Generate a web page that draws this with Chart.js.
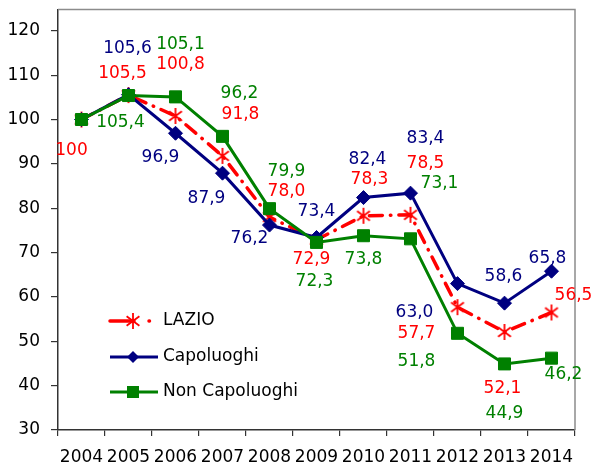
<!DOCTYPE html>
<html>
<head>
<meta charset="utf-8">
<script src="https://cdn.jsdelivr.net/npm/chart.js@4.4.1/dist/chart.umd.min.js"></script>
<style>
  html, body { margin: 0; padding: 0; background: #fff; }
  #wrap { width: 594px; height: 471px; }
</style>
</head>
<body>
<div id="wrap"><canvas id="chart" width="594" height="471"></canvas></div>
<script>
// anni e indici (base 2004 = 100)
const years = ['2004', '2005', '2006', '2007', '2008', '2009', '2010', '2011', '2012', '2013', '2014'];
const lazio = [100, 105.5, 100.8, 91.8, 78.0, 72.9, 78.3, 78.5, 57.7, 52.1, 56.5];
const capoluoghi = [100, 105.6, 96.9, 87.9, 76.2, 73.4, 82.4, 83.4, 63.0, 58.6, 65.8];
const nonCapoluoghi = [100, 105.4, 105.1, 96.2, 79.9, 72.3, 73.8, 73.1, 51.8, 44.9, 46.2];

// spostamento delle etichette rispetto al punto (px)
const lazioLabelPos = [[-10, 31], [-6, -22], [5, -51], [18, -41], [17, -26], [-5, 20], [6, -36], [15, -51], [-41, 26], [-2, 57], [22, -17]];
const capLabelPos = [null, [-1, -46], [-15, 24], [-16, 25], [-20, 14], [0, -26], [4, -38], [15, -55], [-43, 29], [-1, -27], [-4, -13]];
const nonCapLabelPos = [null, [-8, 27], [5, -52], [17, -43], [17, -37], [-2, 39], [0, 24], [29, -55], [-41, 28], [0, 50], [12, 16]];

const RED = '#ff0000';
const BLUE = '#000080';
const GREEN = '#008000';
const FONT = '"DejaVu Sans", Verdana, sans-serif';
const FSIZE = 17;

// asterisco stile Excel
function makeStar(size) {
    const c = document.createElement('canvas');
    c.width = size; c.height = size;
    const g = c.getContext('2d');
    const m = size / 2, r = size / 2 - 1;
    g.strokeStyle = RED;
    g.lineWidth = 1.8;
    g.beginPath();
    g.moveTo(m, m - r); g.lineTo(m, m + r);
    g.moveTo(m - r * 0.8, m - r * 0.6); g.lineTo(m + r * 0.8, m + r * 0.6);
    g.moveTo(m - r * 0.8, m + r * 0.6); g.lineTo(m + r * 0.8, m - r * 0.6);
    g.stroke();
    return c;
}
const starImg = makeStar(18);

function fmt(v) {
    return v === 100 ? '100' : v.toFixed(1).replace('.', ',');
}

const valueLabels = {
    id: 'valueLabels',
    afterDatasetsDraw(chart) {
        const ctx = chart.ctx;
        ctx.save();
        ctx.font = FSIZE + 'px ' + FONT;
        ctx.textAlign = 'center';
        ctx.textBaseline = 'middle';
        chart.data.datasets.forEach((ds, i) => {
            chart.getDatasetMeta(i).data.forEach((pt, j) => {
                const off = ds.labelPos[j];
                if (!off) return;
                ctx.fillStyle = ds.borderColor;
                ctx.fillText(fmt(ds.data[j]), pt.x + off[0], pt.y + off[1]);
            });
        });
        ctx.restore();
    }
};

// cornice grigia sopra e a destra
const frame = {
    id: 'frame',
    beforeDatasetsDraw(chart) {
        const a = chart.chartArea, ctx = chart.ctx;
        ctx.save();
        ctx.strokeStyle = '#8c8c8c';
        ctx.lineWidth = 1.5;
        ctx.beginPath();
        ctx.moveTo(a.left, a.top);
        ctx.lineTo(a.right, a.top);
        ctx.lineTo(a.right, a.bottom);
        ctx.stroke();
        ctx.restore();
    }
};

// legenda dentro l'area del grafico
const insideLegend = {
    id: 'insideLegend',
    afterDraw(chart) {
        const ctx = chart.ctx;
        const x0 = 110, x1 = 158, mx = 133, tx = 163;
        const rows = [321, 357, 392];
        ctx.save();
        ctx.lineCap = 'round';
        // LAZIO
        ctx.strokeStyle = RED; ctx.lineWidth = 3.5;
        ctx.setLineDash([24, 15, 0.5, 100]);
        ctx.beginPath(); ctx.moveTo(x0, rows[0]); ctx.lineTo(x1, rows[0]); ctx.stroke();
        ctx.setLineDash([]);
        ctx.drawImage(starImg, mx - 9, rows[0] - 9);
        // Capoluoghi
        ctx.lineCap = 'butt';
        ctx.strokeStyle = BLUE; ctx.lineWidth = 3;
        ctx.beginPath(); ctx.moveTo(x0, rows[1]); ctx.lineTo(x1, rows[1]); ctx.stroke();
        ctx.fillStyle = BLUE;
        ctx.beginPath();
        ctx.moveTo(mx, rows[1] - 6); ctx.lineTo(mx + 6, rows[1]);
        ctx.lineTo(mx, rows[1] + 6); ctx.lineTo(mx - 6, rows[1]);
        ctx.closePath(); ctx.fill();
        // Non Capoluoghi
        ctx.strokeStyle = GREEN;
        ctx.beginPath(); ctx.moveTo(x0, rows[2]); ctx.lineTo(x1, rows[2]); ctx.stroke();
        ctx.fillStyle = GREEN;
        ctx.fillRect(mx - 6, rows[2] - 6, 12, 12);
        // testi
        ctx.fillStyle = '#000';
        ctx.font = FSIZE + 'px ' + FONT;
        ctx.textAlign = 'left';
        ctx.textBaseline = 'middle';
        chart.data.datasets.forEach((ds, i) => ctx.fillText(ds.label, tx, rows[i]));
        ctx.restore();
    }
};

new Chart(document.getElementById('chart'), {
    type: 'line',
    data: {
        labels: years,
        datasets: [{
            label: 'LAZIO',
            data: lazio,
            labelPos: lazioLabelPos,
            borderColor: RED,
            backgroundColor: RED,
            borderWidth: 3.5,
            borderDash: [13, 8, 0.5, 8],
            borderCapStyle: 'round',
            pointStyle: starImg,
            order: 3
        }, {
            label: 'Capoluoghi',
            data: capoluoghi,
            labelPos: capLabelPos,
            borderColor: BLUE,
            backgroundColor: BLUE,
            borderWidth: 3,
            pointStyle: 'rectRot',
            pointRadius: 7,
            pointBorderWidth: 1,
            order: 2
        }, {
            label: 'Non Capoluoghi',
            data: nonCapoluoghi,
            labelPos: nonCapLabelPos,
            borderColor: GREEN,
            backgroundColor: GREEN,
            borderWidth: 3,
            pointStyle: 'rect',
            pointRadius: 8.5,
            pointBorderWidth: 1,
            order: 1
        }]
    },
    options: {
        responsive: false,
        animation: false,
        layout: { padding: { top: 7, right: 19, left: 0, bottom: 0 } },
        plugins: {
            legend: { display: false },
            tooltip: { enabled: false }
        },
        scales: {
            x: {
                offset: true,
                grid: { offset: true, drawOnChartArea: false, tickLength: 6, color: '#333', lineWidth: 1.2 },
                border: { color: '#333', width: 1.5 },
                ticks: { color: '#000', font: { family: FONT, size: FSIZE }, padding: 11, maxRotation: 0, autoSkip: false },
                afterFit(scale) {
                    scale.height = 41;
                    scale.paddingLeft = 0; scale.paddingRight = 0;
                }
            },
            y: {
                min: 30,
                max: 124.8,
                grid: { drawOnChartArea: false, tickLength: 7, color: '#333', lineWidth: 1.2 },
                border: { color: '#333', width: 1.5 },
                ticks: { stepSize: 10, includeBounds: false, color: '#000', font: { family: FONT, size: FSIZE }, padding: 11 },
                afterFit(scale) {
                    scale.width = 58;
                    scale.paddingTop = 0; scale.paddingBottom = 0;
                }
            }
        }
    },
    plugins: [frame, valueLabels, insideLegend]
});
</script>
</body>
</html>
